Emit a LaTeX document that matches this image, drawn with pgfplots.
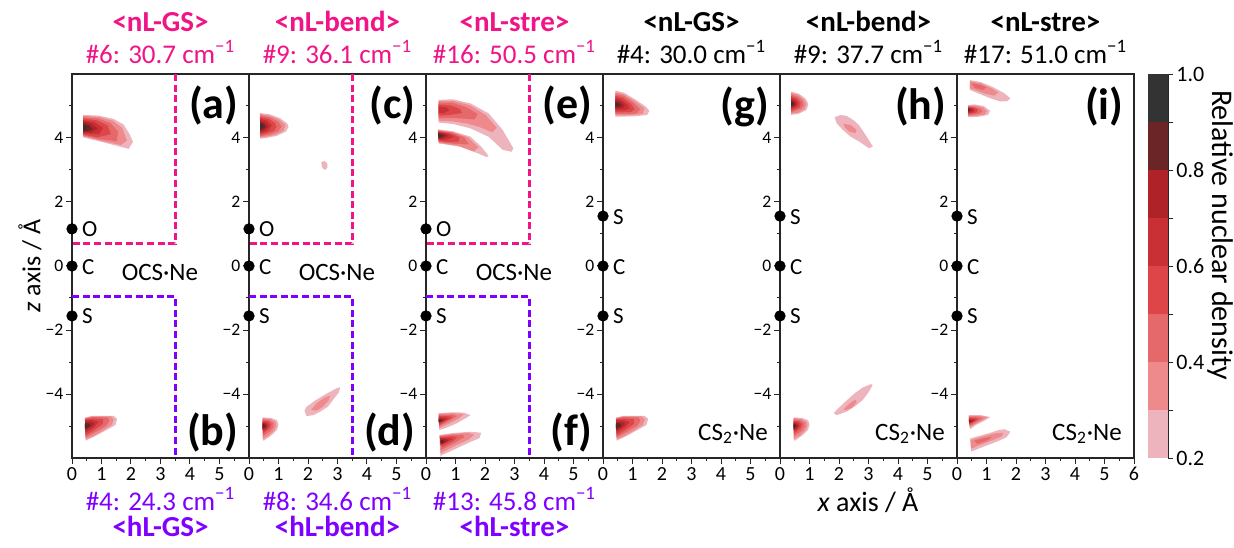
\documentclass[border=0pt]{standalone}
\usepackage{fontspec}
\setmainfont{Carlito}
\usepackage{pgfplots}
\pgfplotsset{compat=1.18}
\definecolor{c2}{HTML}{EDB4BD}
\definecolor{c3}{HTML}{EE8A8C}
\definecolor{c4}{HTML}{E5686A}
\definecolor{c5}{HTML}{DD4549}
\definecolor{c6}{HTML}{C83035}
\definecolor{c7}{HTML}{AF2328}
\definecolor{c8}{HTML}{6B2526}
\definecolor{c9}{HTML}{333333}
\definecolor{mag}{RGB}{240,20,135}
\definecolor{pur}{RGB}{128,0,255}
\newcommand{\fs}[1]{\fontsize{#1}{#1}\selectfont}
\newcommand{\lv}[2]{\addplot[fill=#1,draw=none,forget plot] coordinates {#2} --cycle;}
\newcommand{\magframe}{\addplot[mag, line width=1.3pt, dash pattern=on 3.5pt off 1.8pt, forget plot] coordinates {(3.5,6) (3.5,0.7) (0,0.7)};}
\newcommand{\purframe}{\addplot[pur, line width=1.3pt, dash pattern=on 3.5pt off 1.8pt, forget plot] coordinates {(0,-0.95) (3.5,-0.95) (3.5,-6)};}
\newcommand{\ocsatoms}{%
 \addplot[only marks, mark=*, mark size=2.6pt, black, forget plot] coordinates {(0,1.16) (0,0) (0,-1.56)};
 \node[anchor=west, inner sep=0, font=\fs{11.5}] at (axis cs:0.33,1.16) {O};
 \node[anchor=west, inner sep=0, font=\fs{11.5}] at (axis cs:0.33,-0.02) {C};
 \node[anchor=west, inner sep=0, font=\fs{11.5}] at (axis cs:0.33,-1.58) {S};
 \node[anchor=base, inner sep=0, font=\fs{12.5}] at (axis cs:2.98,-0.44) {OCS·Ne};}
\newcommand{\csatoms}{%
 \addplot[only marks, mark=*, mark size=2.6pt, black, forget plot] coordinates {(0,1.56) (0,0) (0,-1.56)};
 \node[anchor=west, inner sep=0, font=\fs{11.5}] at (axis cs:0.33,1.54) {S};
 \node[anchor=west, inner sep=0, font=\fs{11.5}] at (axis cs:0.33,-0.02) {C};
 \node[anchor=west, inner sep=0, font=\fs{11.5}] at (axis cs:0.33,-1.58) {S};
 \node[anchor=base east, inner sep=0, font=\fs{12.5}] at (axis cs:5.6,-5.44) {CS\textsubscript{2}·Ne};}
\newcommand{\plab}[2]{\node[anchor=east, inner sep=0, font=\fs{22}\bfseries] at (axis cs:5.65,#1) {#2};}
% lower-left blob shapes reused
\newcommand{\blobB}{%
 \lv{c2}{(0.44,-4.74) (0.68,-4.68) (1.41,-4.68) (1.53,-4.78) (1.47,-4.97) (1.16,-5.13) (0.80,-5.31) (0.46,-5.46)}
 \lv{c3}{(0.44,-4.75) (0.7,-4.70) (1.32,-4.70) (1.42,-4.8) (1.34,-4.97) (1.05,-5.14) (0.72,-5.32) (0.46,-5.42)}
 \lv{c4}{(0.44,-4.77) (0.7,-4.72) (1.2,-4.73) (1.27,-4.84) (1.15,-5.0) (0.85,-5.16) (0.46,-5.36)}
 \lv{c5}{(0.44,-4.79) (0.7,-4.76) (1.05,-4.79) (1.05,-4.93) (0.8,-5.1) (0.46,-5.3)}
 \lv{c6}{(0.44,-4.82) (0.68,-4.81) (0.9,-4.87) (0.75,-5.04) (0.46,-5.22)}
 \lv{c7}{(0.44,-4.86) (0.62,-4.86) (0.76,-4.93) (0.62,-5.05) (0.45,-5.15)}
 \lv{c8}{(0.44,-4.9) (0.57,-4.92) (0.64,-4.99) (0.53,-5.06) (0.44,-5.1)}
 \lv{c9}{(0.44,-4.95) (0.53,-4.99) (0.44,-5.05)}}
\newcommand{\blobD}{%
 \lv{c2}{(0.46,-4.73) (0.75,-4.75) (0.95,-4.82) (1.0,-4.95) (0.95,-5.12) (0.75,-5.3) (0.5,-5.46) (0.46,-5.44)}
 \lv{c3}{(0.46,-4.75) (0.73,-4.78) (0.9,-4.87) (0.93,-5.0) (0.85,-5.14) (0.67,-5.3) (0.47,-5.4)}
 \lv{c4}{(0.46,-4.79) (0.7,-4.82) (0.83,-4.91) (0.83,-5.03) (0.72,-5.16) (0.47,-5.32)}
 \lv{c5}{(0.46,-4.83) (0.66,-4.86) (0.75,-4.95) (0.7,-5.07) (0.47,-5.24)}
 \lv{c6}{(0.46,-4.87) (0.62,-4.9) (0.67,-4.99) (0.6,-5.09) (0.47,-5.17)}
 \lv{c7}{(0.46,-4.9) (0.57,-4.93) (0.62,-5.0) (0.54,-5.08) (0.46,-5.13)}
 \lv{c8}{(0.46,-4.93) (0.54,-4.96) (0.57,-5.01) (0.51,-5.06) (0.46,-5.09)}
 \lv{c9}{(0.46,-4.97) (0.52,-5.0) (0.46,-5.04)}}
\pgfplotsset{
 panel/.style={
  scale only axis, width=88.5pt, height=192pt, anchor=south west,
  xmin=0, xmax=6, ymin=-6, ymax=6, clip=false,
  axis line style={line width=0.7pt, draw=black!85},
  every tick/.style={line width=0.5pt, black!85},
  tick align=outside, tick pos=left,
  major tick length=2.8pt, minor tick length=1.5pt,
  xtick={0,1,2,3,4,5}, xticklabels={0,1,2,3,4,5},
  minor xtick={0.5,1.5,2.5,3.5,4.5,5.5},
  ytick={-4,-2,0,2,4}, yticklabels={−4,−2,0,2,4},
  minor ytick={-5,-3,-1,1,3,5},
  xticklabel style={font=\fs{10}, inner sep=1.6pt},
  yticklabel style={font=\fs{8.8}, inner sep=1.3pt},
 }
}
\begin{document}
\begin{tikzpicture}
% ---------- panel a/b
\begin{axis}[panel, at={(36pt,44.5pt)}]
 \lv{c2}{(0.38,4.72) (0.9,4.70) (1.4,4.60) (1.75,4.42) (1.95,4.12) (2.07,3.88) (1.92,3.66) (1.5,3.76) (1.0,3.88) (0.38,4.02)}
 \lv{c3}{(0.38,4.69) (0.9,4.66) (1.38,4.54) (1.7,4.32) (1.86,3.92) (1.66,3.78) (1.0,3.91) (0.38,4.05)}
 \lv{c4}{(0.38,4.65) (0.88,4.61) (1.3,4.47) (1.56,4.2) (1.52,3.9) (0.95,3.96) (0.38,4.08)}
 \lv{c5}{(0.38,4.61) (0.85,4.55) (1.2,4.4) (1.32,4.12) (0.85,4.02) (0.38,4.11)}
 \lv{c6}{(0.38,4.56) (0.75,4.5) (1.05,4.32) (0.92,4.12) (0.38,4.14)}
 \lv{c7}{(0.38,4.51) (0.66,4.45) (0.88,4.29) (0.64,4.17) (0.38,4.18)}
 \lv{c8}{(0.38,4.46) (0.58,4.39) (0.7,4.28) (0.52,4.21) (0.38,4.21)}
 \lv{c9}{(0.38,4.4) (0.52,4.32) (0.38,4.25)}
 \blobB
 \magframe \purframe
 \ocsatoms
 \plab{5.0}{(a)} \plab{-5.2}{(b)}
\end{axis}
% ---------- panel c/d
\begin{axis}[panel, at={(124.5pt,44.5pt)}]
 \lv{c2}{(0.37,4.78) (0.7,4.74) (1.05,4.62) (1.3,4.45) (1.34,4.35) (1.25,4.2) (0.95,4.07) (0.6,4.0) (0.38,3.98)}
 \lv{c3}{(0.38,4.75) (0.7,4.7) (1.02,4.58) (1.24,4.4) (1.16,4.22) (0.88,4.09) (0.38,4.01)}
 \lv{c4}{(0.38,4.71) (0.7,4.65) (0.98,4.52) (1.1,4.36) (0.99,4.21) (0.72,4.11) (0.38,4.05)}
 \lv{c5}{(0.38,4.66) (0.67,4.6) (0.88,4.46) (0.93,4.34) (0.82,4.21) (0.38,4.09)}
 \lv{c6}{(0.38,4.61) (0.62,4.54) (0.77,4.39) (0.64,4.21) (0.38,4.14)}
 \lv{c7}{(0.38,4.55) (0.56,4.48) (0.66,4.36) (0.54,4.24) (0.38,4.19)}
 \lv{c8}{(0.38,4.49) (0.51,4.43) (0.56,4.35) (0.47,4.27) (0.38,4.24)}
 \lv{c9}{(0.38,4.42) (0.48,4.36) (0.38,4.29)}
 \lv{c2}{(2.45,3.25) (2.55,3.28) (2.65,3.22) (2.66,3.08) (2.58,3.0) (2.5,3.05) (2.46,3.15)}
 \blobD
 \lv{c2}{(1.88,-4.52) (1.95,-4.40) (2.25,-4.2) (2.55,-4.03) (2.97,-3.82) (3.09,-3.79) (3.05,-3.95) (2.9,-4.12) (2.67,-4.40) (2.40,-4.56) (2.18,-4.66) (1.95,-4.69)}
 \lv{c3}{(2.1,-4.5) (2.3,-4.28) (2.55,-4.12) (2.75,-4.05) (2.7,-4.2) (2.5,-4.4) (2.3,-4.52)}
 \magframe \purframe
 \ocsatoms
 \plab{5.0}{(c)} \plab{-5.2}{(d)}
\end{axis}
% ---------- panel e/f
\begin{axis}[panel, at={(213pt,44.5pt)}]
 \lv{c2}{(0.43,5.19) (0.91,5.21) (1.51,5.08) (2.12,4.77) (2.6,4.25) (2.96,3.68) (2.9,3.57) (2.6,3.63) (2.12,4.04) (1.51,4.30) (0.91,4.44) (0.43,4.48)}
 \lv{c3}{(0.43,5.16) (0.91,5.16) (1.5,5.02) (2.02,4.72) (2.4,4.32) (2.25,4.18) (1.82,4.34) (1.4,4.45) (0.9,4.52) (0.43,4.54)}
 \lv{c4}{(0.43,5.11) (0.9,5.1) (1.38,4.96) (1.75,4.75) (1.65,4.58) (1.22,4.61) (0.8,4.63) (0.43,4.62)}
 \lv{c5}{(0.43,5.05) (0.82,5.02) (1.15,4.91) (1.22,4.78) (0.82,4.72) (0.43,4.7)}
 \lv{c6}{(0.43,4.99) (0.68,4.96) (0.8,4.87) (0.62,4.78) (0.43,4.78)}
 \lv{c2}{(0.40,4.27) (0.91,4.21) (1.51,4.04) (1.87,3.73) (2.12,3.44) (2.06,3.40) (1.76,3.52) (1.15,3.73) (0.43,3.83)}
 \lv{c3}{(0.41,4.25) (0.9,4.19) (1.42,4.02) (1.78,3.71) (1.62,3.58) (1.1,3.75) (0.43,3.85)}
 \lv{c4}{(0.41,4.23) (0.88,4.17) (1.3,4.02) (1.46,3.8) (1.02,3.81) (0.43,3.88)}
 \lv{c5}{(0.41,4.21) (0.83,4.15) (1.14,4.02) (1.1,3.88) (0.72,3.87) (0.43,3.91)}
 \lv{c6}{(0.41,4.19) (0.75,4.14) (0.94,4.04) (0.68,3.93) (0.43,3.94)}
 \lv{c7}{(0.41,4.17) (0.65,4.13) (0.76,4.06) (0.57,3.98) (0.42,3.97)}
 \lv{c8}{(0.41,4.15) (0.58,4.11) (0.63,4.07) (0.51,4.01) (0.42,4.0)}
 \lv{c9}{(0.41,4.13) (0.52,4.09) (0.42,4.04)}
 \lv{c2}{(0.43,-4.6) (0.9,-4.57) (1.28,-4.58) (1.51,-4.66) (1.3,-4.78) (1.03,-4.92) (0.7,-5.05) (0.45,-5.13)}
 \lv{c3}{(0.43,-4.62) (0.9,-4.6) (1.28,-4.63) (1.12,-4.76) (0.88,-4.88) (0.62,-4.99) (0.45,-5.07)}
 \lv{c4}{(0.43,-4.65) (0.88,-4.64) (1.05,-4.69) (0.83,-4.82) (0.45,-5.01)}
 \lv{c5}{(0.43,-4.69) (0.78,-4.69) (0.9,-4.73) (0.68,-4.85) (0.45,-4.97)}
 \lv{c6}{(0.43,-4.73) (0.68,-4.73) (0.76,-4.77) (0.57,-4.86) (0.44,-4.93)}
 \lv{c7}{(0.43,-4.76) (0.6,-4.77) (0.65,-4.8) (0.51,-4.87) (0.44,-4.9)}
 \lv{c8}{(0.43,-4.79) (0.54,-4.8) (0.57,-4.83) (0.48,-4.87) (0.43,-4.88)}
 \lv{c9}{(0.43,-4.81) (0.5,-4.83) (0.43,-4.86)}
 \lv{c2}{(0.45,-5.28) (0.9,-5.22) (1.51,-5.18) (1.87,-5.21) (1.81,-5.38) (1.5,-5.5) (1.15,-5.65) (0.8,-5.8) (0.53,-5.91) (0.49,-5.96)}
 \lv{c3}{(0.46,-5.3) (0.9,-5.25) (1.42,-5.21) (1.64,-5.27) (1.45,-5.42) (1.02,-5.6) (0.6,-5.8) (0.5,-5.86)}
 \lv{c4}{(0.47,-5.32) (0.9,-5.28) (1.25,-5.27) (1.3,-5.35) (0.98,-5.52) (0.6,-5.71) (0.5,-5.75)}
 \lv{c5}{(0.48,-5.35) (0.88,-5.32) (1.06,-5.35) (0.9,-5.48) (0.55,-5.66)}
 \lv{c6}{(0.48,-5.38) (0.78,-5.37) (0.9,-5.41) (0.68,-5.52) (0.5,-5.61)}
 \lv{c7}{(0.49,-5.41) (0.68,-5.41) (0.76,-5.45) (0.6,-5.54) (0.5,-5.58)}
 \lv{c8}{(0.49,-5.44) (0.62,-5.45) (0.65,-5.49) (0.55,-5.53) (0.5,-5.55)}
 \lv{c9}{(0.5,-5.46) (0.58,-5.49) (0.5,-5.52)}
 \magframe \purframe
 \ocsatoms
 \plab{5.0}{(e)} \plab{-5.2}{(f)}
\end{axis}
% ---------- panel g
\begin{axis}[panel, at={(301.5pt,44.5pt)}]
 \lv{c2}{(0.42,5.48) (0.7,5.42) (1.1,5.2) (1.45,4.98) (1.57,4.85) (1.5,4.72) (1.1,4.68) (0.7,4.67) (0.42,4.67)}
 \lv{c3}{(0.42,5.43) (0.7,5.37) (1.07,5.16) (1.4,4.93) (1.35,4.75) (0.9,4.71) (0.42,4.71)}
 \lv{c4}{(0.42,5.38) (0.7,5.32) (1.02,5.11) (1.26,4.9) (1.15,4.77) (0.8,4.75) (0.42,4.75)}
 \lv{c5}{(0.42,5.32) (0.67,5.26) (0.94,5.07) (1.08,4.9) (0.95,4.81) (0.42,4.8)}
 \lv{c6}{(0.42,5.26) (0.62,5.2) (0.84,5.04) (0.9,4.92) (0.74,4.86) (0.42,4.86)}
 \lv{c7}{(0.42,5.2) (0.6,5.14) (0.74,5.03) (0.66,4.93) (0.42,4.91)}
 \lv{c8}{(0.42,5.14) (0.55,5.09) (0.63,5.03) (0.54,4.97) (0.42,4.96)}
 \lv{c9}{(0.42,5.09) (0.52,5.05) (0.42,5.01)}
 \blobB
 \csatoms
 \plab{4.97}{(g)}
\end{axis}
% ---------- panel h
\begin{axis}[panel, at={(390pt,44.5pt)}]
 \lv{c2}{(0.38,5.45) (0.65,5.38) (0.88,5.22) (0.96,5.06) (0.9,4.88) (0.65,4.76) (0.38,4.72)}
 \lv{c3}{(0.38,5.41) (0.63,5.34) (0.82,5.19) (0.89,5.05) (0.83,4.91) (0.62,4.79) (0.38,4.76)}
 \lv{c4}{(0.38,5.36) (0.61,5.29) (0.76,5.16) (0.8,5.04) (0.72,4.92) (0.38,4.8)}
 \lv{c5}{(0.38,5.31) (0.57,5.24) (0.7,5.11) (0.67,4.96) (0.38,4.85)}
 \lv{c6}{(0.38,5.26) (0.54,5.19) (0.62,5.08) (0.57,4.98) (0.38,4.9)}
 \lv{c7}{(0.38,5.21) (0.51,5.15) (0.56,5.06) (0.49,4.99) (0.38,4.95)}
 \lv{c8}{(0.38,5.16) (0.48,5.11) (0.5,5.05) (0.44,5.0) (0.38,4.99)}
 \lv{c9}{(0.38,5.11) (0.45,5.07) (0.38,5.02)}
 \lv{c2}{(1.85,4.65) (2.05,4.72) (2.26,4.69) (2.5,4.55) (2.67,4.41) (2.9,4.1) (3.15,3.73) (3.01,3.68) (2.7,3.88) (2.39,4.04) (2.1,4.28) (1.92,4.46)}
 \lv{c3}{(2.15,4.45) (2.4,4.4) (2.6,4.25) (2.55,4.15) (2.35,4.2) (2.2,4.32)}
 \blobD
 \lv{c2}{(1.82,-4.60) (1.92,-4.50) (2.2,-4.25) (2.53,-3.98) (2.8,-3.8) (3.08,-3.69) (3.14,-3.72) (3.0,-3.95) (2.8,-4.19) (2.55,-4.38) (2.26,-4.55) (1.92,-4.66)}
 \lv{c3}{(2.15,-4.48) (2.35,-4.3) (2.55,-4.18) (2.6,-4.25) (2.45,-4.42) (2.25,-4.5)}
 \csatoms
 \plab{4.97}{(h)}
\end{axis}
% ---------- panel i
\begin{axis}[panel, at={(478.5pt,44.5pt)}, xtick={0,1,2,3,4,5,6}, xticklabels={0,1,2,3,4,5,6}]
 \lv{c2}{(0.44,5.81) (0.8,5.75) (1.2,5.6) (1.6,5.4) (1.81,5.24) (1.7,5.15) (1.47,5.14) (1.1,5.25) (0.7,5.4) (0.44,5.5)}
 \lv{c3}{(0.44,5.77) (0.8,5.71) (1.18,5.55) (1.4,5.42) (1.25,5.32) (0.9,5.4) (0.6,5.5) (0.44,5.55)}
 \lv{c4}{(0.5,5.71) (0.8,5.66) (1.0,5.58) (0.88,5.5) (0.6,5.56)}
 \lv{c2}{(0.38,5.03) (0.6,5.05) (0.9,5.0) (1.12,4.85) (1.05,4.72) (0.7,4.66) (0.38,4.65)}
 \lv{c3}{(0.38,5.01) (0.6,5.01) (0.87,4.96) (1.02,4.84) (0.93,4.73) (0.62,4.69) (0.38,4.68)}
 \lv{c4}{(0.38,4.99) (0.6,4.98) (0.8,4.91) (0.86,4.83) (0.74,4.75) (0.38,4.71)}
 \lv{c5}{(0.38,4.97) (0.58,4.95) (0.71,4.88) (0.66,4.79) (0.38,4.75)}
 \lv{c6}{(0.38,4.95) (0.54,4.93) (0.61,4.86) (0.54,4.8) (0.38,4.78)}
 \lv{c7}{(0.38,4.93) (0.5,4.91) (0.53,4.86) (0.46,4.82) (0.38,4.81)}
 \lv{c8}{(0.38,4.92) (0.46,4.88) (0.38,4.84)}
 \lv{c2}{(0.40,-4.66) (0.8,-4.66) (1.13,-4.72) (0.9,-4.85) (0.64,-4.97) (0.44,-5.10)}
 \lv{c3}{(0.4,-4.68) (0.8,-4.68) (1.03,-4.73) (0.82,-4.84) (0.6,-4.95) (0.43,-5.05)}
 \lv{c4}{(0.4,-4.71) (0.72,-4.71) (0.88,-4.76) (0.62,-4.9) (0.43,-5.0)}
 \lv{c5}{(0.4,-4.74) (0.64,-4.75) (0.73,-4.79) (0.56,-4.88) (0.42,-4.96)}
 \lv{c6}{(0.4,-4.77) (0.58,-4.78) (0.63,-4.82) (0.51,-4.88) (0.42,-4.93)}
 \lv{c7}{(0.4,-4.8) (0.53,-4.81) (0.56,-4.84) (0.48,-4.88) (0.41,-4.9)}
 \lv{c8}{(0.4,-4.82) (0.49,-4.85) (0.41,-4.88)}
 \lv{c2}{(0.44,-5.39) (1.06,-5.23) (1.4,-5.13) (1.61,-5.10) (1.81,-5.18) (1.68,-5.35) (1.4,-5.47) (1.06,-5.59) (0.7,-5.72) (0.48,-5.80)}
 \lv{c3}{(0.46,-5.44) (0.9,-5.32) (1.3,-5.23) (1.58,-5.21) (1.52,-5.32) (1.1,-5.48) (0.7,-5.62) (0.48,-5.71)}
 \lv{c4}{(0.58,-5.46) (0.9,-5.38) (1.18,-5.34) (1.03,-5.45) (0.7,-5.56)}
 \csatoms
 \plab{4.97}{(i)}
\end{axis}
% ---------- colorbar
\begin{axis}[at={(574pt,44.5pt)}, anchor=south west, scale only axis, width=10pt, height=192pt,
  xmin=0, xmax=1, ymin=0.2, ymax=1.0, hide x axis, axis y line*=right,
  axis line style={line width=0.7pt, draw=black!85},
  every tick/.style={line width=0.5pt, black!85},
  tick align=outside, major tick length=2.5pt, minor tick length=2.5pt,
  ytick={0.2,0.4,0.6,0.8,1.0}, yticklabels={0.2,0.4,0.6,0.8,1.0},
  minor ytick={0.3,0.5,0.7,0.9},
  yticklabel style={font=\fs{11}, inner sep=1.5pt}]
 \lv{c2}{(0,0.2) (1,0.2) (1,0.3) (0,0.3)}
 \lv{c3}{(0,0.3) (1,0.3) (1,0.4) (0,0.4)}
 \lv{c4}{(0,0.4) (1,0.4) (1,0.5) (0,0.5)}
 \lv{c5}{(0,0.5) (1,0.5) (1,0.6) (0,0.6)}
 \lv{c6}{(0,0.6) (1,0.6) (1,0.7) (0,0.7)}
 \lv{c7}{(0,0.7) (1,0.7) (1,0.8) (0,0.8)}
 \lv{c8}{(0,0.8) (1,0.8) (1,0.9) (0,0.9)}
 \lv{c9}{(0,0.9) (1,0.9) (1,1.0) (0,1.0)}
\end{axis}
% ---------- titles
\begin{scope}[every node/.style={inner sep=0}]
 \node[anchor=base, text=mag, font=\fs{14.5}\bfseries] at (80.25pt,257.6pt) {\textless nL-GS\textgreater};
 \node[anchor=base, text=mag, font=\fs{14.5}\bfseries] at (168.75pt,257.6pt) {\textless nL-bend\textgreater};
 \node[anchor=base, text=mag, font=\fs{14.5}\bfseries] at (257.25pt,257.6pt) {\textless nL-stre\textgreater};
 \node[anchor=base, font=\fs{14.5}\bfseries] at (345.75pt,257.6pt) {\textless nL-GS\textgreater};
 \node[anchor=base, font=\fs{14.5}\bfseries] at (434.25pt,257.6pt) {\textless nL-bend\textgreater};
 \node[anchor=base, font=\fs{14.5}\bfseries] at (522.75pt,257.6pt) {\textless nL-stre\textgreater};
 \node[anchor=base, text=mag, font=\fs{13.5}] at (80.25pt,241.8pt) {\#6: 30.7 cm\textsuperscript{−1}};
 \node[anchor=base, text=mag, font=\fs{13.5}] at (168.75pt,241.8pt) {\#9: 36.1 cm\textsuperscript{−1}};
 \node[anchor=base, text=mag, font=\fs{13.5}] at (257.25pt,241.8pt) {\#16: 50.5 cm\textsuperscript{−1}};
 \node[anchor=base, font=\fs{13.5}] at (345.75pt,241.8pt) {\#4: 30.0 cm\textsuperscript{−1}};
 \node[anchor=base, font=\fs{13.5}] at (434.25pt,241.8pt) {\#9: 37.7 cm\textsuperscript{−1}};
 \node[anchor=base, font=\fs{13.5}] at (522.75pt,241.8pt) {\#17: 51.0 cm\textsuperscript{−1}};
 \node[anchor=base, text=pur, font=\fs{13.5}] at (80.25pt,18.5pt) {\#4: 24.3 cm\textsuperscript{−1}};
 \node[anchor=base, text=pur, font=\fs{13.5}] at (168.75pt,18.5pt) {\#8: 34.6 cm\textsuperscript{−1}};
 \node[anchor=base, text=pur, font=\fs{13.5}] at (257.25pt,18.5pt) {\#13: 45.8 cm\textsuperscript{−1}};
 \node[anchor=base, text=pur, font=\fs{14.5}\bfseries] at (80.25pt,5.2pt) {\textless hL-GS\textgreater};
 \node[anchor=base, text=pur, font=\fs{14.5}\bfseries] at (168.75pt,5.2pt) {\textless hL-bend\textgreater};
 \node[anchor=base, text=pur, font=\fs{14.5}\bfseries] at (257.25pt,5.2pt) {\textless hL-stre\textgreater};
 \node[anchor=base, font=\fs{14}] at (434pt,18pt) {\textit{x} axis / Å};
 \node[rotate=90, font=\fs{13}] at (15pt,140.5pt) {\textit{z} axis / Å};
 \node[rotate=-90, font=\fs{15}] at (610pt,156pt) {Relative nuclear density};
\end{scope}
\pgfresetboundingbox
\path[use as bounding box] (0,0) rectangle (617pt,273.5pt);
\end{tikzpicture}
\end{document}
